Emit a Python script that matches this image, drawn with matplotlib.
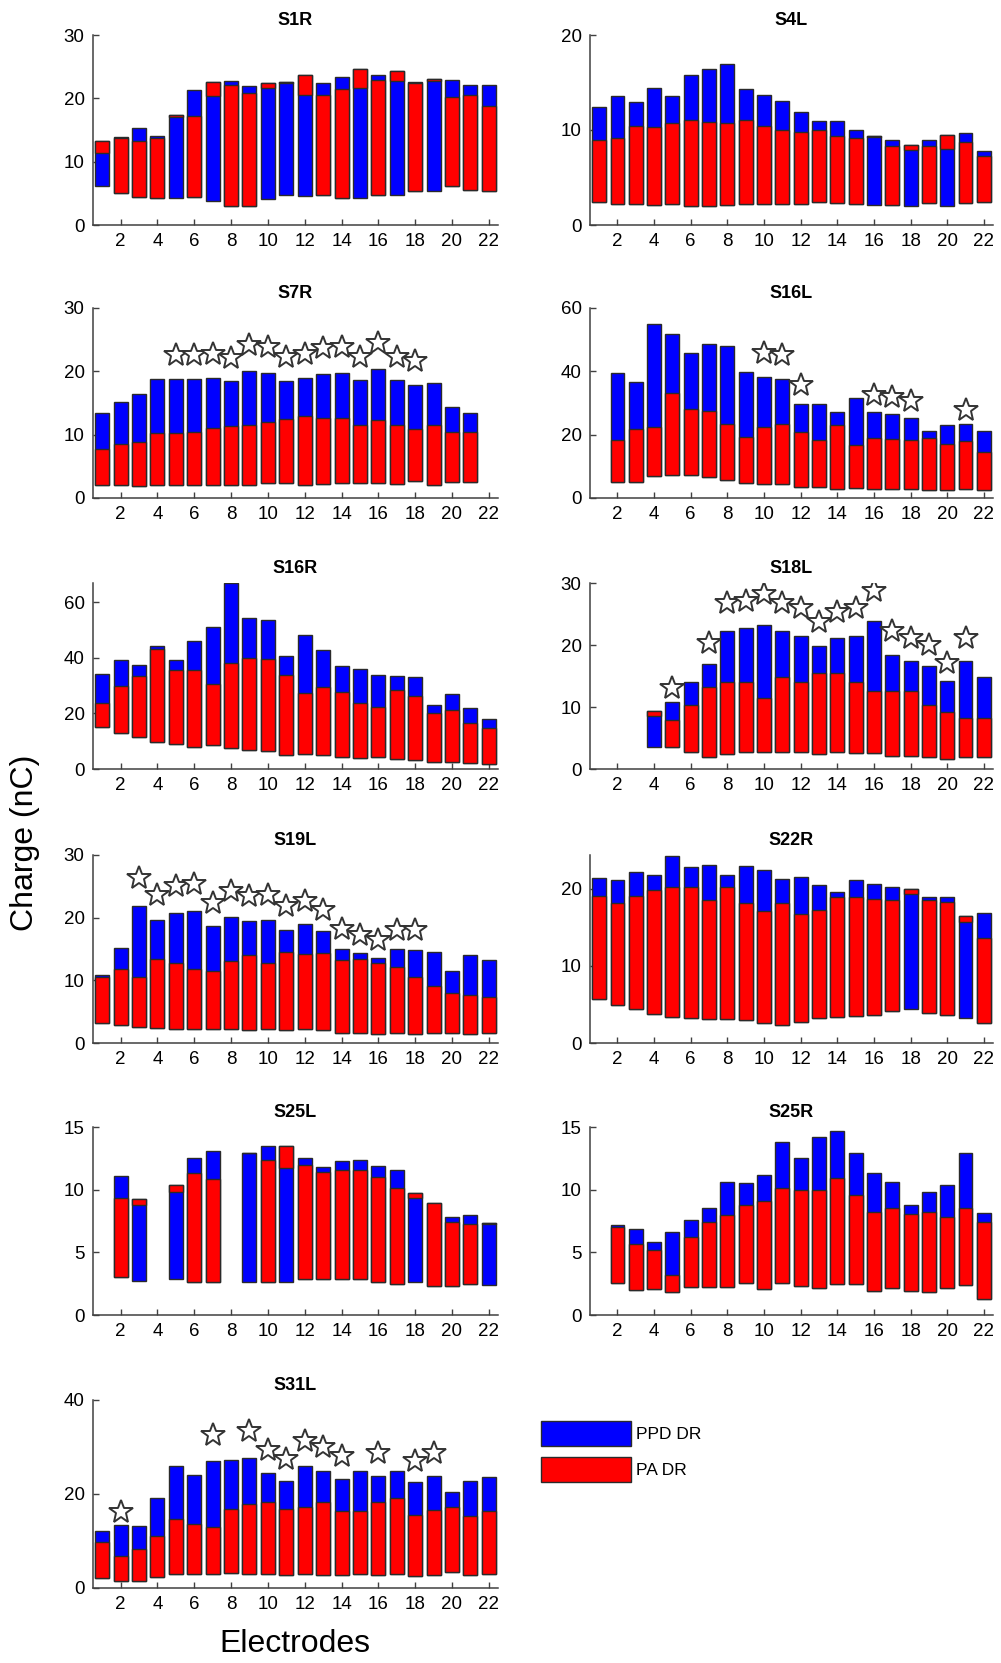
import numpy as np
import matplotlib
matplotlib.use("Agg")
import matplotlib.pyplot as plt
from matplotlib.patches import Patch

plt.rcParams['font.family'] = ['Liberation Sans', 'DejaVu Sans']

nan = np.nan
electrodes = list(range(1, 23))
xtick_vals = list(range(2, 23, 2))

# For each subject: lower bound, boundary between colours, upper bound,
# and which DR forms the lower segment ('r' = PA DR, 'b' = PPD DR)
S1R_lo = [6.2, 5.1, 4.5, 4.3, 4.2, 4.4, 3.8, 3.0, 3.0, 4.1, 4.8, 4.6, 4.8, 4.3, 4.2, 4.8, 4.7, 5.3, 5.3, 6.1, 5.6, 5.3]
S1R_mid = [11.3, 13.7, 13.2, 13.8, 17.1, 17.2, 20.3, 22.1, 20.8, 21.7, 22.4, 20.5, 20.5, 21.4, 21.7, 22.9, 22.8, 22.4, 22.7, 20.2, 20.6, 18.8]
S1R_hi = [13.3, 13.9, 15.3, 14.05, 17.4, 21.3, 22.6, 22.7, 21.9, 22.4, 22.6, 23.7, 22.4, 23.3, 24.6, 23.7, 24.3, 22.55, 23.1, 22.9, 22.1, 22.1]
S1R_lower = "brrrbrbrrbbbrrbrbrbrrr"

S4L_lo = [2.45, 2.25, 2.2, 2.15, 2.25, 2.0, 2.05, 2.15, 2.25, 2.25, 2.2, 2.2, 2.4, 2.3, 2.25, 2.1, 2.1, 2.0, 2.3, 1.95, 2.3, 2.45]
S4L_mid = [8.9, 9.2, 10.4, 10.3, 10.7, 11.1, 10.8, 10.7, 11.1, 10.4, 10.0, 9.8, 10.0, 9.4, 9.2, 9.25, 8.35, 7.9, 8.35, 8.05, 8.7, 7.25]
S4L_hi = [12.4, 13.6, 12.9, 14.4, 13.6, 15.8, 16.4, 17.0, 14.3, 13.7, 13.1, 11.9, 11.0, 10.9, 10.0, 9.35, 8.9, 8.45, 9.0, 9.5, 9.7, 7.75]
S4L_lower = "rrrrrrrrrrrrrrrbrbrbrr"

S7R_lo = [2.0, 2.0, 1.9, 2.0, 2.1, 2.05, 2.1, 2.1, 2.1, 2.4, 2.3, 2.1, 2.2, 2.4, 2.3, 2.4, 2.2, 2.7, 2.1, 2.5, 2.5, nan]
S7R_mid = [7.7, 8.6, 8.9, 10.2, 10.2, 10.5, 11.0, 11.4, 11.6, 12.0, 12.4, 13.0, 12.7, 12.6, 11.5, 12.3, 11.6, 10.9, 11.6, 10.5, 10.4, nan]
S7R_hi = [13.4, 15.1, 16.5, 18.75, 18.75, 18.75, 18.9, 18.4, 20.0, 19.7, 18.5, 18.9, 19.5, 19.7, 18.6, 20.3, 18.6, 17.9, 18.2, 14.3, 13.5, nan]
S7R_lower = "r" * 22
S7R_star_e = list(range(5, 19))
S7R_star_y = [22.6, 22.6, 22.8, 22.1, 24.1, 23.9, 22.3, 22.8, 23.7, 23.8, 22.3, 24.5, 22.3, 21.6]

S16L_lo = [nan, 5.1, 5.1, 6.9, 7.2, 7.2, 6.6, 5.6, 4.8, 4.4, 4.5, 3.4, 3.4, 3.0, 3.3, 3.0, 3.0, 3.0, 2.5, 2.5, 2.8, 2.5]
S16L_mid = [nan, 18.4, 21.9, 22.5, 33.3, 28.0, 27.4, 23.4, 19.3, 22.3, 23.4, 21.0, 18.3, 23.0, 16.8, 18.8, 18.6, 18.2, 18.8, 17.1, 17.9, 14.5]
S16L_hi = [nan, 39.4, 36.6, 55.1, 51.8, 45.9, 48.7, 47.9, 39.8, 38.1, 37.5, 29.6, 29.6, 27.3, 31.6, 27.1, 26.5, 25.3, 21.2, 22.9, 23.3, 21.1]
S16L_lower = "r" * 22
S16L_star_e = [10, 11, 12, 16, 17, 18, 21]
S16L_star_y = [45.7, 45.2, 35.6, 32.5, 32.0, 30.6, 27.9]

S16R_lo = [15.1, 12.9, 11.7, 9.8, 9.0, 8.1, 8.7, 7.6, 6.7, 6.4, 4.9, 5.5, 5.2, 4.3, 4.0, 4.2, 3.7, 3.3, 2.5, 2.6, 2.1, 1.9]
S16R_mid = [23.6, 30.0, 33.6, 43.2, 35.7, 35.7, 30.7, 38.2, 39.9, 39.5, 33.7, 27.4, 29.5, 27.9, 23.7, 22.3, 28.6, 26.2, 20.1, 21.4, 16.7, 14.9]
S16R_hi = [34.4, 39.2, 37.4, 44.4, 39.4, 46.0, 51.2, 66.9, 54.5, 53.6, 40.8, 48.3, 42.9, 37.0, 36.0, 33.8, 33.6, 33.1, 23.2, 27.1, 22.1, 18.0]
S16R_lower = "r" * 22

S18L_lo = [nan, nan, nan, 3.6, 3.5, 2.7, 1.9, 2.5, 2.7, 2.7, 2.7, 2.7, 2.5, 2.7, 2.6, 2.6, 2.1, 2.1, 2.0, 1.6, 1.9, 1.9]
S18L_mid = [nan, nan, nan, 8.6, 7.9, 10.3, 13.2, 14.0, 14.0, 11.4, 14.9, 14.0, 15.5, 15.5, 14.0, 12.6, 12.6, 12.6, 10.3, 9.2, 8.3, 8.3]
S18L_hi = [nan, nan, nan, 9.4, 10.8, 14.1, 17.0, 22.2, 22.7, 23.3, 22.2, 21.5, 19.8, 21.1, 21.5, 23.8, 18.4, 17.5, 16.6, 14.2, 17.5, 14.9]
S18L_lower = "rrrbrrrrrrrrrrrrrrrrrr"
S18L_star_e = [5, 7, 8, 9, 10, 11, 12, 13, 14, 15, 16, 17, 18, 19, 20, 21]
S18L_star_y = [13.1, 20.4, 26.7, 27.1, 28.2, 26.7, 25.9, 23.7, 25.3, 25.9, 28.7, 22.3, 21.2, 20.0, 17.1, 21.1]

S19L_lo = [3.2, 2.8, 2.5, 2.4, 2.3, 2.3, 2.2, 2.2, 2.1, 2.2, 2.1, 2.2, 2.0, 1.6, 1.6, 1.5, 1.6, 1.5, 1.6, 1.6, 1.5, 1.6]
S19L_mid = [10.5, 11.8, 10.5, 13.4, 12.8, 11.8, 11.5, 13.1, 14.1, 12.7, 14.6, 14.2, 14.4, 13.3, 13.4, 12.7, 12.1, 10.6, 9.1, 7.9, 7.7, 7.4]
S19L_hi = [10.8, 15.1, 21.9, 19.6, 20.7, 21.1, 18.7, 20.1, 19.5, 19.6, 18.1, 19.0, 17.8, 15.0, 14.4, 13.6, 15.0, 14.9, 14.6, 11.5, 14.1, 13.3]
S19L_lower = "r" * 22
S19L_star_e = list(range(3, 19))
S19L_star_y = [26.4, 23.6, 25.0, 25.3, 22.4, 24.3, 23.5, 23.6, 21.8, 22.7, 21.3, 18.2, 17.3, 16.4, 18.1, 18.1]

S22R_lo = [5.65, 4.9, 4.4, 3.8, 3.4, 3.3, 3.1, 3.1, 3.0, 2.6, 2.4, 2.7, 3.3, 3.4, 3.5, 3.6, 4.1, 4.4, 3.9, 3.6, 3.3, 2.6]
S22R_mid = [19.1, 18.2, 19.1, 19.8, 20.2, 20.2, 18.5, 20.3, 18.2, 17.1, 18.2, 16.8, 17.3, 19.0, 19.0, 18.7, 18.5, 19.4, 18.5, 18.3, 15.7, 13.6]
S22R_hi = [21.4, 21.1, 22.2, 21.8, 24.3, 22.8, 23.1, 21.8, 23.0, 22.4, 21.3, 21.5, 20.5, 19.6, 21.1, 20.6, 20.3, 20.0, 19.0, 19.0, 16.5, 16.9]
S22R_lower = "rrrrrrrrrrrrrrrrrbrrbr"

S25L_lo = [nan, 3.0, 2.75, nan, 2.85, 2.6, 2.65, nan, 2.65, 2.6, 2.65, 2.9, 2.85, 2.9, 2.9, 2.65, 2.45, 2.65, 2.35, 2.35, 2.45, 2.4]
S25L_mid = [nan, 9.3, 8.8, nan, 9.8, 11.3, 10.85, nan, 12.9, 12.4, 11.7, 12.0, 11.4, 11.55, 11.55, 11.0, 10.1, 9.3, 8.9, 7.4, 7.3, 7.25]
S25L_hi = [nan, 11.1, 9.25, nan, 10.4, 12.5, 13.05, nan, 12.95, 13.5, 13.5, 12.5, 11.8, 12.3, 12.4, 11.85, 11.6, 9.7, 8.95, 7.8, 8.0, 7.35]
S25L_lower = "rrbrbrrrbrbrrrrrrbrrrb"

S25R_lo = [nan, 2.55, 2.0, 2.1, 1.8, 2.25, 2.25, 2.25, 2.55, 2.05, 2.55, 2.35, 2.15, 2.5, 2.45, 1.95, 2.15, 1.9, 1.8, 2.15, 2.4, 1.25]
S25R_mid = [nan, 7.0, 5.65, 5.15, 3.2, 6.25, 7.4, 8.0, 8.75, 9.1, 10.1, 10.0, 10.0, 10.9, 9.6, 8.25, 8.5, 8.05, 8.25, 7.8, 8.5, 7.45]
S25R_hi = [nan, 7.15, 6.85, 5.8, 6.6, 7.55, 8.5, 10.6, 10.5, 11.2, 13.8, 12.5, 14.2, 14.7, 12.9, 11.3, 10.65, 8.75, 9.85, 10.4, 12.9, 8.1]
S25R_lower = "r" * 22

S31L_lo = [2.2, 1.4, 1.4, 2.35, 3.05, 3.05, 3.0, 3.1, 3.0, 2.9, 2.8, 2.9, 2.8, 2.7, 3.0, 2.85, 3.0, 2.6, 2.8, 3.4, 2.85, 3.05]
S31L_mid = [9.8, 6.8, 8.4, 11.1, 14.6, 13.7, 12.9, 16.9, 17.8, 18.3, 16.9, 17.3, 18.2, 16.3, 16.3, 18.3, 19.2, 15.6, 16.6, 17.2, 15.3, 16.3]
S31L_hi = [12.1, 13.4, 13.1, 19.25, 25.9, 24.0, 27.0, 27.2, 27.6, 24.4, 22.7, 26.0, 24.9, 23.2, 25.0, 23.9, 24.9, 22.5, 23.9, 20.5, 22.7, 23.7]
S31L_lower = "r" * 22
S31L_star_e = [2, 7, 9, 10, 11, 12, 13, 14, 16, 18, 19]
S31L_star_y = [16.2, 32.5, 33.3, 29.3, 27.4, 31.3, 30.1, 28.1, 28.8, 27.0, 28.8]

BLUE = '#0000FF'
RED = '#FF0000'
EDGE = '#2a2a2a'
AXC = '#404040'

fig = plt.figure(figsize=(10.01, 16.63), dpi=100)

W = 1001.0
H = 1663.0
col_x = [(93, 498), (590, 993)]
row_y = [(35, 225), (308, 498), (583, 769), (855, 1043), (1127, 1315), (1400, 1588)]


def make_ax(r, c):
    x0, x1 = col_x[c]
    y0, y1 = row_y[r]
    return fig.add_axes([x0 / W, 1 - y1 / H, (x1 - x0) / W, (y1 - y0) / H])


def panel(ax, title, lo, mid, hi, lower, ylim, yticks, star_e=None, star_y=None):
    lo = np.array(lo, float)
    mid = np.array(mid, float)
    hi = np.array(hi, float)
    is_b = np.array([ch == 'b' for ch in lower])
    x = np.array(electrodes)
    w = 0.76
    # PPD DR (blue) spans the full range, PA DR (red) drawn on top
    ax.bar(x, hi - lo, bottom=lo, width=w, color=BLUE, edgecolor=EDGE, linewidth=1.0, zorder=2)
    r_lo = np.where(is_b, mid, lo)
    r_hi = np.where(is_b, hi, mid)
    ax.bar(x, r_hi - r_lo, bottom=r_lo, width=w, color=RED, edgecolor=EDGE, linewidth=1.0, zorder=3)
    if star_e is not None:
        ax.plot(star_e, star_y, linestyle='none', marker='*', markersize=18,
                markerfacecolor='white', markeredgecolor='#333333', markeredgewidth=1.4, zorder=4)
    ax.set_xlim(0.5, 22.5)
    ax.set_ylim(*ylim)
    ax.set_xticks(xtick_vals)
    ax.set_yticks(yticks)
    ax.tick_params(direction='in', length=4, width=1, color=AXC, labelsize=13.5, pad=6)
    for s in ['top', 'right']:
        ax.spines[s].set_visible(False)
    for s in ['left', 'bottom']:
        ax.spines[s].set_color(AXC)
        ax.spines[s].set_linewidth(1.1)
    ax.set_title(title, fontweight='bold', fontsize=13, pad=7)


panel(make_ax(0, 0), 'S1R', S1R_lo, S1R_mid, S1R_hi, S1R_lower, (0, 30), [0, 10, 20, 30])
panel(make_ax(0, 1), 'S4L', S4L_lo, S4L_mid, S4L_hi, S4L_lower, (0, 20), [0, 10, 20])
panel(make_ax(1, 0), 'S7R', S7R_lo, S7R_mid, S7R_hi, S7R_lower, (0, 30), [0, 10, 20, 30], S7R_star_e, S7R_star_y)
panel(make_ax(1, 1), 'S16L', S16L_lo, S16L_mid, S16L_hi, S16L_lower, (0, 60), [0, 20, 40, 60], S16L_star_e, S16L_star_y)
panel(make_ax(2, 0), 'S16R', S16R_lo, S16R_mid, S16R_hi, S16R_lower, (0, 67), [0, 20, 40, 60])
panel(make_ax(2, 1), 'S18L', S18L_lo, S18L_mid, S18L_hi, S18L_lower, (0, 30), [0, 10, 20, 30], S18L_star_e, S18L_star_y)
panel(make_ax(3, 0), 'S19L', S19L_lo, S19L_mid, S19L_hi, S19L_lower, (0, 30), [0, 10, 20, 30], S19L_star_e, S19L_star_y)
panel(make_ax(3, 1), 'S22R', S22R_lo, S22R_mid, S22R_hi, S22R_lower, (0, 24.4), [0, 10, 20])
panel(make_ax(4, 0), 'S25L', S25L_lo, S25L_mid, S25L_hi, S25L_lower, (0, 15), [0, 5, 10, 15])
panel(make_ax(4, 1), 'S25R', S25R_lo, S25R_mid, S25R_hi, S25R_lower, (0, 15), [0, 5, 10, 15])
ax31 = make_ax(5, 0)
panel(ax31, 'S31L', S31L_lo, S31L_mid, S31L_hi, S31L_lower, (0, 40), [0, 20, 40], S31L_star_e, S31L_star_y)

fig.text(25 / W, 1 - 843 / H, 'Charge (nC)', rotation=90, fontsize=23,
         ha='center', va='center')
fig.text(295 / W, 1 - 1644 / H, 'Electrodes', fontsize=23, ha='center', va='center')

handles = [Patch(facecolor=BLUE, edgecolor=EDGE, linewidth=1.0, label='PPD DR'),
           Patch(facecolor=RED, edgecolor=EDGE, linewidth=1.0, label='PA DR')]
fig.legend(handles=handles, loc='upper left', bbox_to_anchor=(541 / W, 1 - 1421 / H),
           frameon=False, fontsize=12.5, handlelength=5.2, handleheight=1.8,
           handletextpad=0.3, labelspacing=0.68, borderpad=0, borderaxespad=0)

fig.savefig('out.png', dpi=100, facecolor='white')
